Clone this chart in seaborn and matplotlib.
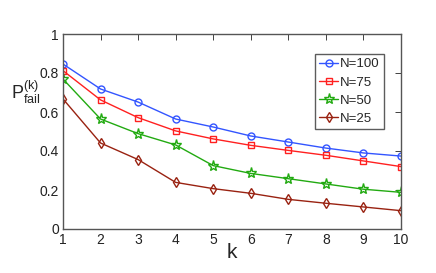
import matplotlib
matplotlib.use("Agg")
import matplotlib.pyplot as plt
import pandas as pd
import seaborn as sns

k_values = [1, 2, 3, 4, 5, 6, 7, 8, 9, 10]
p_n100 = [0.846, 0.718, 0.651, 0.564, 0.523, 0.477, 0.446, 0.415, 0.390, 0.374]
p_n75 = [0.812, 0.662, 0.571, 0.503, 0.462, 0.429, 0.403, 0.378, 0.349, 0.320]
p_n50 = [0.769, 0.564, 0.489, 0.431, 0.325, 0.285, 0.258, 0.231, 0.204, 0.188]
p_n25 = [0.667, 0.441, 0.356, 0.239, 0.207, 0.183, 0.152, 0.132, 0.113, 0.094]

labels = ["N=100", "N=75", "N=50", "N=25"]
colors = ["#3355ff", "#ff2020", "#22aa11", "#992211"]
markers = ["o", "s", "*", "d"]
msizes = [5, 4.5, 8, 5]

sns.set_theme(style="white")
plt.rcParams["font.family"] = ["Liberation Sans", "DejaVu Sans"]
plt.rcParams["mathtext.fontset"] = "custom"
plt.rcParams["mathtext.rm"] = "Liberation Sans"
plt.rcParams["mathtext.it"] = "Liberation Sans"

df = pd.DataFrame({
    "k": k_values * 4,
    "p": p_n100 + p_n75 + p_n50 + p_n25,
    "series": sum([[lab] * len(k_values) for lab in labels], []),
})

fig = plt.figure(figsize=(4.36, 2.73), dpi=100)
ax = fig.add_axes([63 / 436, 1 - 229 / 273, (401 - 63) / 436, (229 - 34) / 273])

for lab, c, m, ms in zip(labels, colors, markers, msizes):
    sub = df[df["series"] == lab]
    sns.lineplot(data=sub, x="k", y="p", ax=ax, color=c, marker=m, markersize=ms,
                 markerfacecolor="none", markeredgecolor=c, markeredgewidth=1.0,
                 linewidth=1.0, label=lab)

ax.set_xlim(1, 10)
ax.set_ylim(0, 1)
ax.set_xticks(k_values)
ax.set_yticks([0, 0.2, 0.4, 0.6, 0.8, 1])
ax.set_yticklabels(["0", "0.2", "0.4", "0.6", "0.8", "1"])
ax.tick_params(direction="in", length=4, width=0.6, top=True, right=True,
               labelsize=10, colors="#222222", pad=3)
for s in ax.spines.values():
    s.set_color("#555555")
    s.set_linewidth(1.0)

ax.set_xlabel("k", fontsize=15, labelpad=-3)
ax.set_ylabel(r"$\mathrm{P}_{\mathrm{fail}}^{(k)}$", fontsize=13, rotation=0,
              ha="center", va="center")
ax.yaxis.set_label_coords(-0.11, 0.7)

leg = ax.legend(loc="upper right", bbox_to_anchor=(0.95, 0.9), fontsize=9.5,
                frameon=True, fancybox=False, handlelength=1.4, borderpad=0.35,
                labelspacing=0.45, handletextpad=0.15, borderaxespad=0.0)
leg.get_frame().set_edgecolor("#333333")
leg.get_frame().set_linewidth(1.0)

fig.savefig("out.png", dpi=100)
